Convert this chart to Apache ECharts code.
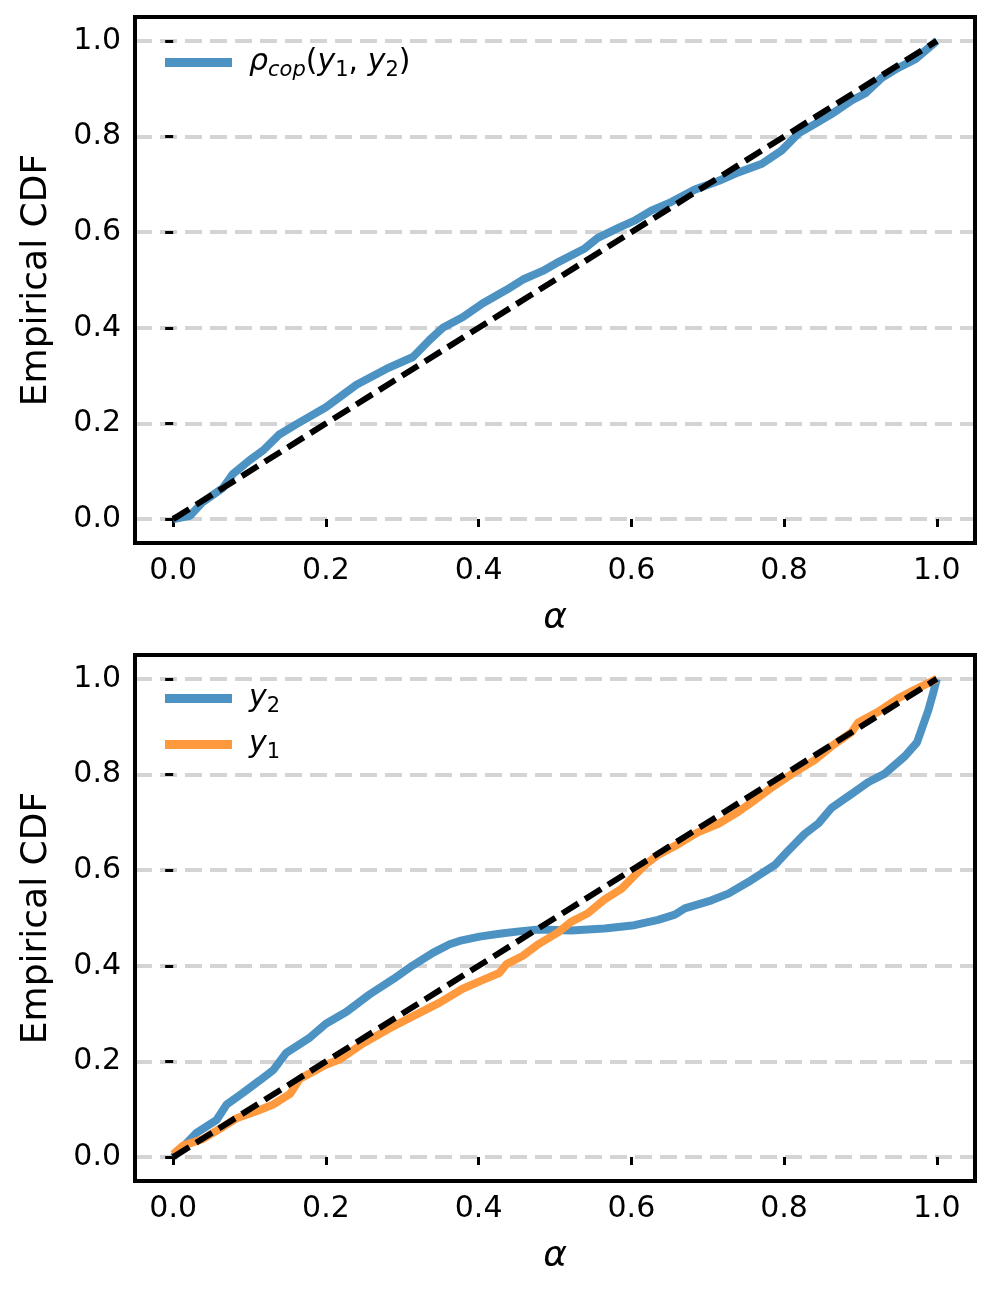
<!DOCTYPE html>
<html><head><meta charset="utf-8">
<script src="https://cdn.jsdelivr.net/npm/echarts@6/dist/echarts.min.js"></script>
<style>html,body{margin:0;padding:0;background:#fff}#c{width:997px;height:1290px}</style>
</head><body><div id="c"></div>
<script>
const tickValues = [0, 0.2, 0.4, 0.6, 0.8, 1.0];
const diagX = [0, 1];
const diagY = [0, 1];
const rhoX = [0,0.022,0.039,0.065,0.078,0.1,0.118,0.139,0.161,0.2,0.24,0.279,0.314,0.336,0.353,0.379,0.405,0.436,0.458,0.484,0.505,0.539,0.556,0.583,0.604,0.626,0.652,0.683,0.714,0.740,0.771,0.797,0.819,0.840,0.862,0.889,0.906,0.928,0.950,0.972,1.0];
const rhoY = [0,0.007,0.036,0.065,0.094,0.123,0.144,0.177,0.198,0.234,0.281,0.314,0.339,0.375,0.400,0.422,0.451,0.479,0.501,0.519,0.538,0.566,0.588,0.609,0.624,0.645,0.663,0.689,0.707,0.725,0.743,0.771,0.807,0.826,0.847,0.876,0.890,0.923,0.944,0.962,1.0];
const y2X = [0,0.030,0.057,0.070,0.092,0.113,0.131,0.148,0.179,0.2,0.227,0.257,0.288,0.314,0.340,0.362,0.375,0.401,0.427,0.453,0.479,0.521,0.565,0.604,0.635,0.657,0.670,0.705,0.727,0.757,0.788,0.805,0.827,0.845,0.862,0.888,0.910,0.932,0.958,0.974,0.989,0.996,1.0];
const y2Y = [0,0.050,0.078,0.110,0.135,0.160,0.182,0.218,0.250,0.279,0.304,0.340,0.372,0.401,0.427,0.445,0.452,0.461,0.467,0.472,0.476,0.474,0.478,0.485,0.496,0.507,0.520,0.537,0.551,0.579,0.611,0.640,0.676,0.698,0.730,0.759,0.784,0.802,0.838,0.867,0.935,0.975,1.0];
const y1X = [0,0.013,0.039,0.065,0.083,0.109,0.131,0.153,0.166,0.179,0.2,0.218,0.248,0.283,0.318,0.349,0.379,0.405,0.427,0.436,0.458,0.479,0.504,0.521,0.543,0.565,0.587,0.600,0.618,0.635,0.661,0.687,0.714,0.740,0.762,0.783,0.810,0.840,0.862,0.888,0.897,0.923,0.950,0.972,1.0];
const y1Y = [0.006,0.024,0.038,0.063,0.081,0.096,0.110,0.132,0.164,0.175,0.193,0.204,0.237,0.269,0.298,0.323,0.352,0.370,0.385,0.403,0.421,0.446,0.470,0.492,0.510,0.539,0.561,0.582,0.611,0.632,0.654,0.679,0.697,0.722,0.747,0.772,0.801,0.830,0.859,0.888,0.909,0.931,0.960,0.978,1.0];

const pair = (xs, ys) => xs.map((x, i) => [x, ys[i]]);
const FONT = 'DejaVu Sans';
const BLUE = '#4c92c3', ORANGE = '#ff993e';

const rich = {
  it: {fontFamily: FONT, fontStyle: 'italic', fontSize: 30, color: '#000', lineHeight: 36, verticalAlign: 'middle'},
  n: {fontFamily: FONT, fontSize: 30, color: '#000', lineHeight: 36, verticalAlign: 'middle'},
  sit: {fontFamily: FONT, fontStyle: 'italic', fontSize: 21, color: '#000', lineHeight: 21, padding: [16, 0, 0, 0], verticalAlign: 'middle'},
  sn: {fontFamily: FONT, fontSize: 21, color: '#000', lineHeight: 21, padding: [16, 0, 0, 0], verticalAlign: 'middle'}
};
const legendLabels = {
  'rho': '{it|ρ}{sit|cop}{n|(}{it|y}{sn|1}{n|, }{it|y}{sn|2}{n|)}',
  'y2': '{it|y}{sn|2}',
  'y1': '{it|y}{sn|1}'
};

function xAxis(gi) {
  return {
    type: 'value', gridIndex: gi, min: -0.05, max: 1.05,
    name: 'α', nameLocation: 'middle', nameGap: 58,
    nameTextStyle: {fontFamily: FONT, fontStyle: 'italic', fontSize: 36, color: '#000'},
    axisLine: {show: false},
    axisTick: {show: true, length: 8, inside: false, customValues: tickValues, lineStyle: {color: '#000', width: 3}},
    axisLabel: {customValues: tickValues, fontFamily: FONT, fontSize: 30, color: '#000', margin: 13,
      formatter: v => v.toFixed(1)},
    splitLine: {show: false}
  };
}
function yAxis(gi) {
  return {
    type: 'value', gridIndex: gi, min: -0.05, max: 1.05,
    name: 'Empirical CDF', nameLocation: 'middle', nameGap: 80,
    nameTextStyle: {fontFamily: FONT, fontSize: 36, color: '#000'},
    axisLine: {show: false},
    axisTick: {show: true, length: 8, customValues: tickValues, lineStyle: {color: '#000', width: 3}},
    axisLabel: {customValues: tickValues, fontFamily: FONT, fontSize: 30, color: '#000', margin: 14,
      formatter: v => v.toFixed(1)},
    splitLine: {show: true, lineStyle: {color: '#d4d4d4', width: 4, type: [17, 8]}}
  };
}
function curve(name, gi, data, color) {
  return {name, type: 'line', xAxisIndex: gi, yAxisIndex: gi, data, showSymbol: false, symbol: 'none',
    lineStyle: {color, width: 8}, itemStyle: {color}, z: 3, animation: false};
}
function diag(gi) {
  return {name: 'diag' + gi, type: 'line', xAxisIndex: gi, yAxisIndex: gi, data: pair(diagX, diagY),
    showSymbol: false, symbol: 'none', lineStyle: {color: '#000', width: 6, type: [19, 8]}, z: 4, animation: false};
}
function legend(top, names) {
  return {
    left: 160, top, orient: 'vertical', itemGap: 9, itemWidth: 67, itemHeight: 9, icon: 'rect',
    data: names, formatter: n => legendLabels[n], textStyle: {rich, fontFamily: FONT, fontSize: 30, padding: [0, 0, 0, 12]},
    selectedMode: false
  };
}

const chart = echarts.init(document.getElementById('c'), null, {renderer: 'canvas'});
chart.setOption({
  animation: false,
  backgroundColor: '#fff',
  grid: [
    {left: 135, right: 22, top: 17, height: 526, show: true, borderColor: '#000', borderWidth: 4, backgroundColor: 'transparent', z: 5},
    {left: 135, right: 22, top: 655, height: 526, show: true, borderColor: '#000', borderWidth: 4, backgroundColor: 'transparent', z: 5}
  ],
  xAxis: [xAxis(0), xAxis(1)],
  yAxis: [yAxis(0), yAxis(1)],
  legend: [legend(39, ['rho']), legend(675, ['y2', 'y1'])],
  series: [
    curve('rho', 0, pair(rhoX, rhoY), BLUE),
    diag(0),
    curve('y2', 1, pair(y2X, y2Y), BLUE),
    curve('y1', 1, pair(y1X, y1Y), ORANGE),
    diag(1)
  ]
});
</script>
</body></html>
